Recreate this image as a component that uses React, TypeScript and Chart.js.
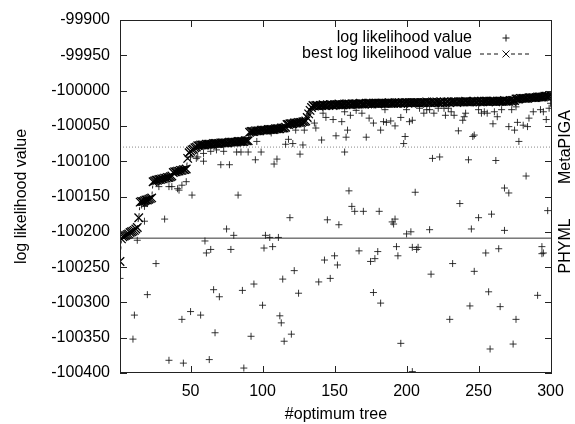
import React, { useEffect, useRef } from "react";
import { Chart, registerables } from "chart.js";
Chart.register(...registerables);

const xTicks = [50, 100, 150, 200, 250, 300];
const xMin = 1;
const xMax = 301;
const yMin = -100400;
const yMax = -99900;
const yStep = 50;

const seriesLabels = ["log likelihood value", "best log likelihood value"];
const axisTitles = { x: "#optimum tree", y: "log likelihood value" };
const refLabels = ["MetaPIGA", "PHYML"];
const metapigaValue = -100080;
const phymlValue = -100209;
const refLabelValues = [-100080, -100220];

const bestValues = [
  -100242, -100210,
  -100207, -100206, -100205, -100204, -100203, -100201, -100200, -100199, -100198, -100196, -100194,
  -100180,
  -100158, -100157, -100157, -100156, -100155, -100155, -100154, -100153, -100152,
  -100129, -100128, -100127, -100127, -100126, -100126, -100125, -100125, -100124, -100124, -100123, -100123, -100122, -100121,
  -100116, -100115, -100115, -100114, -100114, -100113, -100113, -100112, -100112, -100111,
  -100096, -100088, -100086, -100084, -100083, -100081, -100080,
  -100078, -100078, -100077, -100077, -100077, -100077, -100076, -100076, -100076, -100076, -100076, -100075,
  -100075, -100075, -100075, -100075, -100074, -100074, -100074, -100074, -100074, -100074, -100073, -100073,
  -100073, -100073, -100073, -100073, -100072, -100072, -100072, -100072, -100072, -100071, -100071, -100071,
  -100059, -100058, -100058, -100058, -100057, -100057, -100057, -100057, -100056, -100056, -100056, -100056, -100056,
  -100055, -100055, -100055, -100055, -100055, -100054, -100054, -100054, -100054, -100053, -100053, -100053, -100052,
  -100048, -100048, -100047, -100047, -100047, -100046, -100046, -100046, -100045, -100045, -100045, -100044, -100044, -100043,
  -100038, -100033, -100028, -100024, -100021,
  -100022, -100021, -100021, -100022, -100021, -100021, -100020, -100021, -100021, -100020,
  -100021, -100020, -100020, -100021, -100020, -100020, -100020, -100019, -100020, -100020,
  -100020, -100019, -100020, -100019, -100019, -100020, -100019, -100019, -100019, -100019,
  -100019, -100019, -100018, -100019, -100019, -100019, -100018, -100019, -100018, -100018,
  -100019, -100018, -100018, -100018, -100019, -100018, -100018, -100018, -100018, -100018,
  -100018, -100018, -100017, -100018, -100018, -100018, -100017, -100018, -100018, -100017,
  -100018, -100017, -100018, -100017, -100017, -100018, -100017, -100017, -100017, -100017,
  -100017, -100017, -100017, -100018, -100017, -100017, -100017, -100017, -100016, -100017,
  -100017, -100017, -100016, -100017, -100017, -100016, -100017, -100017, -100016, -100017,
  -100016, -100017, -100016, -100016, -100017, -100016, -100016, -100016, -100016, -100017,
  -100016, -100016, -100016, -100016, -100016, -100015, -100016, -100016, -100016, -100016,
  -100016, -100015, -100016, -100016, -100015, -100016, -100015, -100016, -100015, -100015,
  -100015, -100016, -100015, -100015, -100015, -100015, -100016, -100015, -100015, -100015,
  -100015, -100015, -100014, -100015, -100015, -100015, -100014, -100015, -100014, -100014,
  -100012, -100012, -100012, -100011, -100011, -100011, -100011, -100011, -100011, -100010,
  -100010, -100010, -100010, -100010, -100010, -100009, -100009, -100009, -100009, -100009,
  -100008, -100008, -100008, -100008, -100007,
];

const scatterX = [
  1, 10, 11, 13, 16, 18, 18, 20, 20, 26, 28, 32, 35, 35, 37, 41, 42, 44, 44, 45,
  47, 50, 50, 51, 54, 55, 57, 59, 59, 60, 61, 63, 64, 64, 66, 67, 68, 70, 71, 73,
  75, 77, 78, 80, 82, 83, 85, 86, 87, 90, 92, 94, 95, 96, 99, 100, 101, 102, 105, 106,
  107, 108, 110, 111, 112, 113, 114, 115, 116, 118, 119, 120, 121, 122, 123, 125, 126, 128, 129, 136,
  137, 139, 141, 142, 143, 144, 145, 147, 149, 150, 151, 152, 153, 155, 157, 157, 158, 159, 160, 161,
  162, 164, 165, 167, 169, 170, 172, 174, 175, 177, 177, 178, 180, 181, 182, 182, 184, 185, 186, 189,
  190, 191, 192, 192, 193, 194, 196, 196, 198, 199, 200, 200, 202, 203, 204, 204, 204, 206, 207, 208,
  209, 212, 214, 216, 216, 217, 218, 219, 222, 223, 226, 227, 229, 230, 231, 232, 233, 236, 237, 239,
  240, 241, 243, 244, 245, 246, 247, 247, 250, 250, 252, 254, 255, 256, 257, 258, 259, 260, 261, 262,
  263, 264, 265, 266, 268, 268, 271, 271, 273, 274, 275, 276, 276, 277, 278, 281, 283, 284, 285, 288,
  291, 293, 294, 294, 295, 295, 297, 298, 299, 300,
];

const scatterY = [
  -100266, -100352, -100318, -100212, -100162, -100185, -100164, -100289, -100160, -100245,
  -100136, -100182, -100382, -100136, -100136, -100139, -100141, -100134, -100324, -100386,
  -100129, -100313, -100094, -100148, -100096, -100094, -100318, -100100, -100089, -100213,
  -100230, -100381, -100225, -100086, -100282, -100343, -100084, -100292, -100105, -100086,
  -100196, -100105, -100225, -100205, -100087, -100148, -100087, -100283, -100393, -100087,
  -100348, -100274, -100098, -100072, -100087, -100304, -100223, -100205, -100208, -100060,
  -100221, -100104, -100097, -100208, -100319, -100329, -100267, -100355, -100076, -100069,
  -100180, -100345, -100075, -100255, -100056, -100287, -100090, -100077, -100056, -100046,
  -100053, -100271, -100070, -100032, -100240, -100038, -100183, -100266, -100041, -100234,
  -100064, -100247, -100190, -100044, -100087, -100030, -100066, -100056, -100142, -100035,
  -100164, -100171, -100028, -100227, -100032, -100171, -100066, -100039, -100242, -100286,
  -100046, -100238, -100228, -100171, -100301, -100056, -100044, -100027, -100045, -100043,
  -100186, -100189, -100182, -100050, -100221, -100234, -100358, -100038, -100075, -100065,
  -100203, -100027, -100044, -100200, -100398, -100222, -100042, -100144, -100225, -100222,
  -100025, -100032, -100027, -100197, -100027, -100260, -100096, -100032, -100025, -100094,
  -100025, -100035, -100025, -100324, -100030, -100245, -100035, -100057, -100160, -100042,
  -100037, -100032, -100098, -100305, -100196, -100065, -100256, -100063, -100180, -100027,
  -100032, -100030, -100230, -100032, -100285, -100366, -100175, -100047, -100030, -100099,
  -100037, -100224, -100306, -100027, -100138, -100198, -100145, -100051, -100027, -100359,
  -100056, -100324, -100023, -100045, -100072, -100049, -100121, -100051, -100039, -100030,
  -100290, -100027, -100221, -100231, -100230, -100030, -100041, -100170, -100025, -100018,
];

const FONT_FAMILY = '"Liberation Sans", Arial, Helvetica, sans-serif';
const FONT_SIZE = 16;
const TEXT_COLOR = "#000";

const decorPlugin = {
  id: "decor",
  afterDraw(chart: any) {
    const { ctx, chartArea: a, scales } = chart;
    const x = scales.x;
    const y = scales.y;
    ctx.save();
    ctx.strokeStyle = "#222";
    ctx.lineWidth = 1;
    ctx.setLineDash([]);
    ctx.strokeRect(a.left + 0.5, a.top + 0.5, a.right - a.left - 1, a.bottom - a.top - 1);
    const tl = 7;
    ctx.beginPath();
    for (const t of xTicks) {
      const px = Math.round(x.getPixelForValue(t)) + 0.5;
      ctx.moveTo(px, a.bottom);
      ctx.lineTo(px, a.bottom - tl);
      ctx.moveTo(px, a.top);
      ctx.lineTo(px, a.top + tl);
    }
    for (const tk of y.ticks) {
      const py = Math.round(y.getPixelForValue(tk.value)) + 0.5;
      ctx.moveTo(a.left, py);
      ctx.lineTo(a.left + tl, py);
      ctx.moveTo(a.right, py);
      ctx.lineTo(a.right - tl, py);
    }
    ctx.stroke();

    ctx.fillStyle = TEXT_COLOR;
    ctx.font = `${FONT_SIZE}px ${FONT_FAMILY}`;
    ctx.textAlign = "center";
    ctx.textBaseline = "middle";
    refLabels.forEach((lbl, i) => {
      const py = y.getPixelForValue(refLabelValues[i]);
      ctx.save();
      ctx.translate(a.right + 14, py);
      ctx.rotate(-Math.PI / 2);
      ctx.fillText(lbl, 0, 0);
      ctx.restore();
    });

    const textRight = a.right - 80;
    const sampleL = a.right - 72;
    const sampleR = a.right - 20;
    const sampleC = (sampleL + sampleR) / 2;
    const row1 = a.top + 18;
    const row2 = a.top + 34;
    ctx.textAlign = "right";
    ctx.fillText(seriesLabels[0], textRight, row1);
    ctx.fillText(seriesLabels[1], textRight, row2);
    ctx.strokeStyle = "#111";
    ctx.lineWidth = 1;
    ctx.beginPath();
    ctx.moveTo(sampleC - 3.5, row1);
    ctx.lineTo(sampleC + 3.5, row1);
    ctx.moveTo(sampleC, row1 - 3.5);
    ctx.lineTo(sampleC, row1 + 3.5);
    ctx.stroke();
    ctx.setLineDash([4, 3]);
    ctx.beginPath();
    ctx.moveTo(sampleL, row2);
    ctx.lineTo(sampleC - 5, row2);
    ctx.moveTo(sampleC + 5, row2);
    ctx.lineTo(sampleR, row2);
    ctx.stroke();
    ctx.setLineDash([]);
    ctx.beginPath();
    ctx.moveTo(sampleC - 3.5, row2 - 3.5);
    ctx.lineTo(sampleC + 3.5, row2 + 3.5);
    ctx.moveTo(sampleC - 3.5, row2 + 3.5);
    ctx.lineTo(sampleC + 3.5, row2 - 3.5);
    ctx.stroke();
    ctx.restore();
  },
};

export default function App() {
  const ref = useRef<HTMLCanvasElement | null>(null);

  useEffect(() => {
    if (!ref.current) return;
    const bestData = bestValues.map((v, i) => ({ x: i + 1, y: v }));
    const scatterData = scatterX.map((xv, i) => ({ x: xv, y: scatterY[i] }));
    const chart = new Chart(ref.current, {
      type: "line",
      data: {
        datasets: [
          {
            label: seriesLabels[1],
            data: bestData,
            borderColor: "#222",
            borderWidth: 1,
            borderDash: [3, 3],
            pointStyle: "crossRot",
            pointRadius: 6,
            pointBorderWidth: 1.3,
            pointBorderColor: "#000",
            pointBackgroundColor: "#000",
            fill: false,
            tension: 0,
          },
          {
            label: seriesLabels[0],
            data: scatterData,
            showLine: false,
            pointStyle: "cross",
            pointRadius: 3.5,
            pointBorderWidth: 1,
            pointBorderColor: "rgba(20,20,20,0.85)",
          },
          {
            label: refLabels[0],
            data: [
              { x: xMin, y: metapigaValue },
              { x: xMax, y: metapigaValue },
            ],
            borderColor: "#888",
            borderWidth: 1,
            borderDash: [1, 2],
            pointRadius: 0,
          },
          {
            label: refLabels[1],
            data: [
              { x: xMin, y: phymlValue },
              { x: xMax, y: phymlValue },
            ],
            borderColor: "#333",
            borderWidth: 1,
            pointRadius: 0,
          },
        ],
      },
      options: {
        responsive: false,
        animation: false,
        devicePixelRatio: 1,
        layout: { padding: { left: 0, top: 20, right: 23, bottom: 0 } },
        plugins: {
          legend: { display: false },
          tooltip: { enabled: false },
        },
        scales: {
          x: {
            type: "linear",
            min: xMin,
            max: xMax,
            afterBuildTicks: (s: any) => {
              s.ticks = xTicks.map((v) => ({ value: v }));
            },
            afterFit: (s: any) => {
              s.height = 51;
            },
            grid: { display: false, drawTicks: false },
            border: { display: false },
            ticks: {
              padding: 9,
              color: TEXT_COLOR,
              font: { size: FONT_SIZE, family: FONT_FAMILY },
              maxRotation: 0,
              autoSkip: false,
              callback: (v: any) => String(v),
            },
            title: {
              display: true,
              text: axisTitles.x,
              color: TEXT_COLOR,
              font: { size: FONT_SIZE, family: FONT_FAMILY },
              padding: { top: 0, bottom: 0 },
            },
          },
          y: {
            type: "linear",
            min: yMin,
            max: yMax,
            afterFit: (s: any) => {
              s.width = 120;
            },
            grid: { display: false, drawTicks: false },
            border: { display: false },
            ticks: {
              stepSize: yStep,
              padding: 10,
              color: TEXT_COLOR,
              font: { size: FONT_SIZE, family: FONT_FAMILY },
              callback: (v: any) => String(v),
            },
            title: {
              display: true,
              text: axisTitles.y,
              color: TEXT_COLOR,
              font: { size: FONT_SIZE, family: FONT_FAMILY },
              padding: { top: 12, bottom: 0 },
            },
          },
        },
      },
      plugins: [decorPlugin],
    });
    return () => chart.destroy();
  }, []);

  return (
    <div style={{ position: "fixed", left: 0, top: 0, width: 575, height: 424, background: "#fff" }}>
      <canvas ref={ref} width={575} height={424} />
    </div>
  );
}
